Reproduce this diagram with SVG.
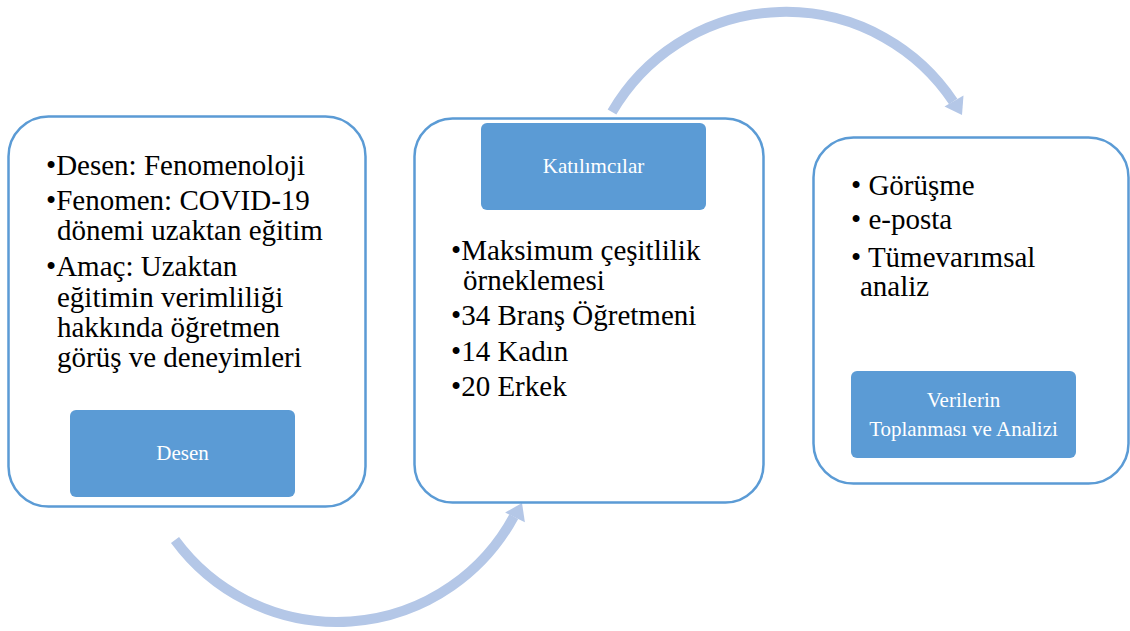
<svg xmlns="http://www.w3.org/2000/svg" width="1130" height="631" viewBox="0 0 1130 631">
<style>
.outer{fill:#fff;stroke:#5B9BD5;stroke-width:2.5}
.inner{fill:#5B9BD5;stroke:none}
.arc{fill:none;stroke:#B4C7E7;stroke-width:10}
.head{fill:#B4C7E7}
.t{font-family:'Liberation Serif',serif;font-size:29px;fill:#000}
.lbl{font-family:'Liberation Serif',serif;font-size:21px;fill:#fff;text-anchor:middle}
</style>
<rect width="1130" height="631" fill="#fff"/>
<g id="connectors">
<path class="arc" d="M175,540 A201,201 0 0 0 513.8,516.6"/>
<polygon class="head" points="522,503 524.9,522.2 505.1,512.6"/>
<path class="arc" d="M612,112 A201,201 0 0 1 953.2,101.5"/>
<polygon class="head" points="962,115 944.5,106.5 963.5,95.5"/>
</g>
<g id="node-desen">
<rect class="outer" x="8.5" y="116.5" width="357" height="390" rx="40"/>
<text class="t" font-family="Liberation Serif, serif"><tspan x="46" y="175">•Desen: Fenomenoloji</tspan><tspan x="46" y="210">•Fenomen: COVID-19</tspan><tspan x="57" y="240">dönemi uzaktan eğitim</tspan><tspan x="46" y="276">•Amaç: Uzaktan</tspan><tspan x="57" y="307">eğitimin verimliliği</tspan><tspan x="57" y="337">hakkında öğretmen</tspan><tspan x="57" y="367">görüş ve deneyimleri</tspan></text>
<rect class="inner" x="70" y="410" width="225" height="87" rx="6"/>
<text class="lbl" x="182.5" y="460">Desen</text>
</g>
<g id="node-katilimcilar">
<rect class="outer" x="414.5" y="118.5" width="349" height="384" rx="38"/>
<rect class="inner" x="481" y="123" width="225" height="87" rx="6"/>
<text class="lbl" x="593.5" y="173">Katılımcılar</text>
<text class="t"><tspan x="451" y="260">•Maksimum çeşitlilik</tspan><tspan x="463" y="290">örneklemesi</tspan><tspan x="451" y="325">•34 Branş Öğretmeni</tspan><tspan x="451" y="361">•14 Kadın</tspan><tspan x="451" y="396">•20 Erkek</tspan></text>
</g>
<g id="node-veriler">
<rect class="outer" x="813.5" y="137.5" width="315" height="346" rx="40"/>
<text class="t"><tspan x="851" y="195">• Görüşme</tspan><tspan x="851" y="229">• e-posta</tspan><tspan x="851" y="267">• Tümevarımsal</tspan><tspan x="860" y="296">analiz</tspan></text>
<rect class="inner" x="851" y="371" width="225" height="87" rx="6"/>
<text class="lbl" x="963.5" y="407">Verilerin</text>
<text class="lbl" x="963.5" y="436">Toplanması ve Analizi</text>
</g>
</svg>
